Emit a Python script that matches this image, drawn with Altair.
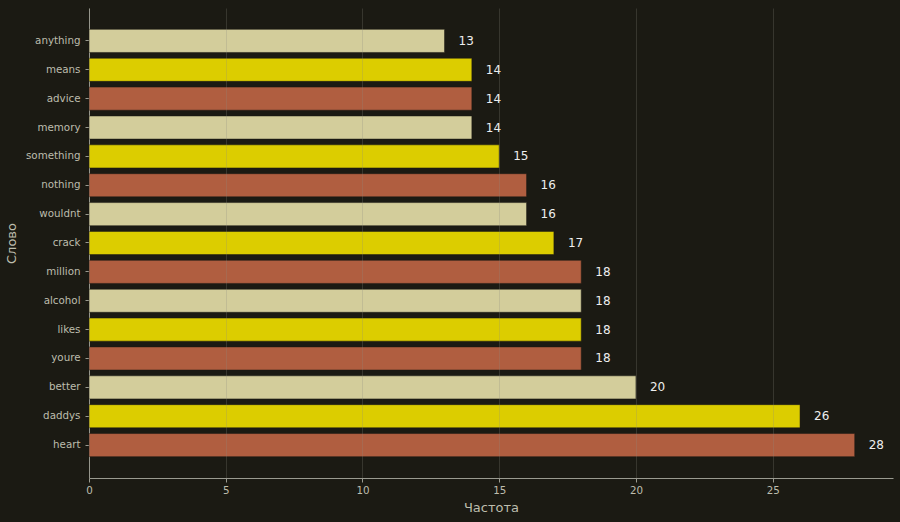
import altair as alt
import pandas as pd

words = ["anything", "means", "advice", "memory", "something", "nothing", "wouldnt",
         "crack", "million", "alcohol", "likes", "youre", "better", "daddys", "heart"]
counts = [13, 14, 14, 14, 15, 16, 16, 17, 18, 18, 18, 18, 20, 26, 28]
palette = ["#d3cd9b", "#dccd00", "#b05e40"]
BG = "#1b1a13"

# make the page itself dark and margin-free so the chart fills the window
try:
    import altair.utils.html as _h
    _orig = _h.TEMPLATES["standard"]

    class _DarkTemplate:
        def render(self, *a, **k):
            s = _orig.render(*a, **k)
            style = ("<style>html,body{margin:0;padding:0;overflow:hidden;background:"
                     + BG + ";}</style>")
            if "<head>" in s:
                return s.replace("<head>", "<head>" + style, 1)
            return style + s

    _h.TEMPLATES["standard"] = _DarkTemplate()
except Exception:
    pass

colors = [palette[i % 3] for i in range(len(words))]
df = pd.DataFrame({"word": words, "count": counts, "color": colors})

FONT = "DejaVu Sans"

y_enc = alt.Y("word:N", sort=words, title="Слово",
              scale=alt.Scale(paddingInner=0.2, paddingOuter=0.74),
              axis=alt.Axis(labelColor="#bdbdad", labelFontSize=10.3, labelFont=FONT,
                            titleColor="#bdbdad", titleFontSize=13, titleFont=FONT,
                            titleFontWeight="normal", titlePadding=7,
                            tickColor="#9a9a90", tickSize=4, labelPadding=5,
                            domainColor="#9a9a90", grid=False))

x_enc = alt.X("count:Q", title="Частота",
              scale=alt.Scale(domain=[0, 29.4], nice=False, zero=True),
              axis=alt.Axis(values=[0, 5, 10, 15, 20, 25], labelColor="#bdbdad",
                            labelFontSize=10.3, labelFont=FONT, titleColor="#bdbdad",
                            titleFontSize=13, titleFont=FONT, titleFontWeight="normal",
                            titlePadding=6, tickColor="#9a9a90", tickSize=4,
                            labelPadding=3, labelFlush=False, domainColor="#9a9a90",
                            grid=True, gridColor="#8a8a80", gridOpacity=0.25, zindex=1))

bars = alt.Chart(df).mark_bar(stroke=BG, strokeOpacity=0.5, strokeWidth=1).encode(
    x=x_enc,
    y=y_enc,
    color=alt.Color("color:N", scale=None),
)

labels = alt.Chart(df).mark_text(align="left", baseline="middle", dx=14,
                                 fontSize=12, font=FONT, color="#eeeeee").encode(
    x=alt.X("count:Q"),
    y=alt.Y("word:N", sort=words),
    text=alt.Text("count:Q"),
)

chart = (bars + labels).properties(
    width=804, height=470, background=BG,
    autosize=alt.AutoSizeParams(type="none"),
    padding={"left": 89, "top": 8, "right": 7, "bottom": 44},
).configure_view(stroke=None)

chart.save("out.html", embed_options={"renderer": "svg", "actions": False})
